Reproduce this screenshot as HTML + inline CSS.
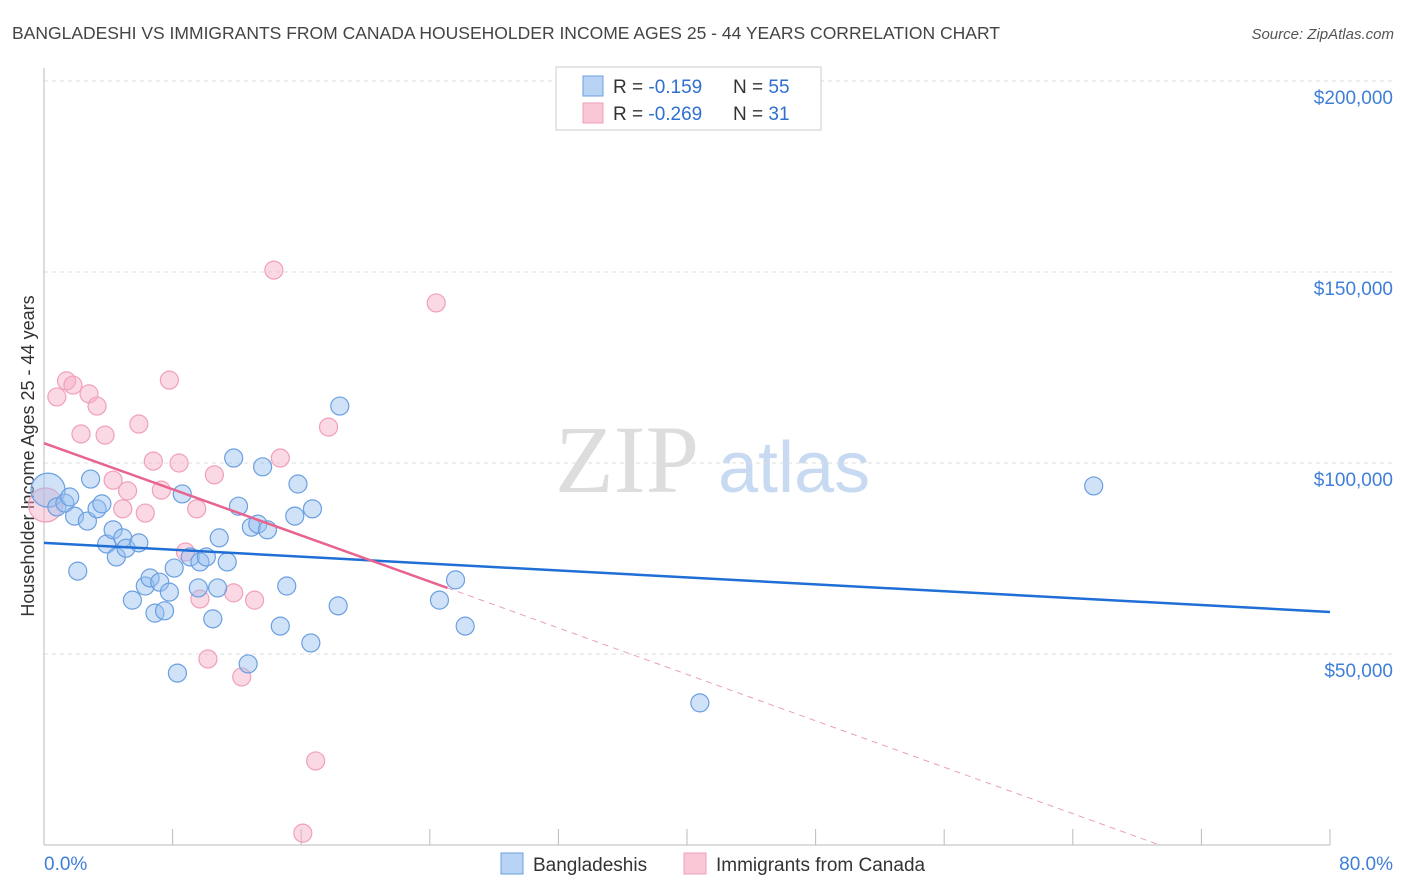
<!DOCTYPE html>
<html><head><meta charset="utf-8"><style>
body{margin:0;background:#fff;font-family:"Liberation Sans",sans-serif;}
svg{display:block}
</style></head><body>
<svg id="c" width="1406" height="892" xmlns="http://www.w3.org/2000/svg">
<text x="12" y="39" font-size="17.5" fill="#444">BANGLADESHI VS IMMIGRANTS FROM CANADA HOUSEHOLDER INCOME AGES 25 - 44 YEARS CORRELATION CHART</text>
<text x="1394" y="39" font-size="15" fill="#555" font-style="italic" text-anchor="end">Source: ZipAtlas.com</text>
<text x="555" y="492" font-size="96" fill="#ddd" font-family="Liberation Serif,serif">ZIP</text>
<text x="718" y="492" font-size="72" fill="#c8daf2">atlas</text>
<text transform="translate(34,456) rotate(-90)" font-size="18" fill="#333" text-anchor="middle">Householder Income Ages 25 - 44 years</text>
<g id="grid"></g><g id="pts"></g><g id="lines"></g>
<g>
<rect x="556" y="67" width="265" height="63" fill="#fff" stroke="#ccc"/>
<rect x="583" y="76" width="20" height="20" fill="#b9d3f5" stroke="#6a9fe0"/>
<rect x="583" y="103" width="20" height="20" fill="#f9c7d6" stroke="#f0a0b8"/>
<text x="613" y="93" font-size="19" fill="#333">R = <tspan fill="#2f6fd0">-0.159</tspan><tspan x="733">N = </tspan><tspan fill="#2f6fd0">55</tspan></text>
<text x="613" y="120" font-size="19" fill="#333">R = <tspan fill="#2f6fd0">-0.269</tspan><tspan x="733">N = </tspan><tspan fill="#2f6fd0"> 31</tspan></text>
</g>
<g>
<rect x="501" y="853" width="22" height="21" fill="#b9d3f5" stroke="#6a9fe0"/>
<text x="533" y="871" font-size="19" fill="#333">Bangladeshis</text>
<rect x="684" y="853" width="22" height="21" fill="#f9c7d6" stroke="#f0a0b8"/>
<text x="716" y="871" font-size="19" fill="#333">Immigrants from Canada</text>
</g>
</svg>
<script>
const yTicks=[50000,100000,150000,200000];
const yTickLabels=["$50,000","$100,000","$150,000","$200,000"];
const xTickLabels=["0.0%","80.0%"];
const blueX=[0.25,0.8,1.3,1.6,1.9,2.7,2.9,3.3,3.6,2.1,3.9,4.3,4.5,4.9,5.1,5.9,5.5,6.3,6.6,6.9,7.2,7.5,7.8,8.1,8.3,8.6,9.1,9.6,9.7,10.1,10.5,10.8,10.9,11.4,11.8,12.1,12.7,12.9,13.3,13.6,13.9,14.7,15.1,15.6,15.8,16.6,16.7,18.3,18.4,24.6,25.6,26.2,40.8,65.3];
const blueY=[92.9,88.5,89.5,91.1,86.1,84.8,95.8,88.0,89.3,71.7,78.8,82.5,75.4,80.4,77.7,79.1,64.1,67.8,69.9,60.7,68.8,61.3,66.2,72.5,45.0,91.9,75.4,67.3,74.1,75.4,59.2,67.3,80.4,74.1,101.3,88.7,47.4,83.2,84.0,99.0,82.5,57.3,67.8,86.1,94.5,52.9,88.0,62.6,114.9,64.1,69.4,57.3,37.2,94.0];
const pinkX=[0.1,0.8,1.4,1.8,2.3,2.8,3.3,3.8,4.3,4.9,5.2,5.9,6.3,6.8,7.3,7.8,8.4,8.8,9.5,9.7,10.2,10.6,11.8,12.3,13.1,14.3,14.7,16.1,16.9,17.7,24.4];
const pinkY=[89.0,117.3,121.5,120.4,107.6,118.1,114.9,107.3,95.5,88.0,92.7,110.2,86.9,100.5,92.9,121.7,100.0,76.7,88.0,64.4,48.7,96.9,66.0,44.0,64.1,150.5,101.3,3.1,22.0,109.4,141.9];
const blueTrend=[79.1,61.0];
const pinkTrend=[105.2,67.3,0];
const pinkTrendX=[0,25.1,69.4];
const NS="http://www.w3.org/2000/svg";
const X=v=>44+v/80*1286, Y=k=>845-k*1000/50000*191;
function mk(t,a,p){const e=document.createElementNS(NS,t);for(const k in a)e.setAttribute(k,a[k]);p.appendChild(e);return e;}
const grid=document.getElementById('grid');
yTicks.forEach((v,i)=>{
 const l=mk('line',{x1:44,x2:1393,y1:Y(v/1000),y2:Y(v/1000),stroke:'#ddd','stroke-dasharray':'4,4'},grid);
 
 
 const t=mk('text',{x:1393,y:Y(v/1000)+23,'text-anchor':'end','font-size':19,fill:'#3f7fd8'},grid);
 t.textContent=yTickLabels[i];
 
 
});
const ax=mk('line',{x1:44,x2:44,y1:68,y2:845,stroke:'#bbb'},grid);


const bx=mk('line',{x1:44,x2:1330,y1:845,y2:845,stroke:'#bbb'},grid);


for(let i=0;i<=10;i++){const t=mk('line',{x1:X(i*8),x2:X(i*8),y1:829,y2:845,stroke:'#bbb'},grid);
 
 }
[[0,44,'start'],[80,1393,'end']].forEach((d,i)=>{const t=mk('text',{x:d[1],y:870,'text-anchor':d[2],'font-size':19,fill:'#3f7fd8'},grid);t.textContent=xTickLabels[i];
 
 });
const pts=document.getElementById('pts');
function dots(xs,ys,fill,stroke,name){xs.forEach((x,i)=>{const r=i===0?17:9;
 const c=mk('circle',{cx:X(x),cy:Y(ys[i]),r:r,fill:fill,stroke:stroke,'stroke-width':1.2},pts);
 
 });}
dots(pinkX,pinkY,'rgba(246,170,195,0.45)','#f0a0b8','point-canada');
dots(blueX,blueY,'rgba(150,190,240,0.45)','#6a9fe0','point-bangladeshi');
const lg=document.getElementById('lines');
const b=mk('line',{x1:X(0),y1:Y(blueTrend[0]),x2:X(80),y2:Y(blueTrend[1]),stroke:'#1f6fd6','stroke-width':2.5},lg);


const p=mk('line',{x1:X(pinkTrendX[0]),y1:Y(pinkTrend[0]),x2:X(pinkTrendX[1]),y2:Y(pinkTrend[1]),stroke:'#e8648e','stroke-width':2.5},lg);


const pd=mk('line',{x1:X(pinkTrendX[1]),y1:Y(pinkTrend[1]),x2:X(pinkTrendX[2]),y2:Y(pinkTrend[2]),stroke:'#e8a0b8','stroke-width':1,'stroke-dasharray':'6,5'},lg);


</script>
</body></html>
